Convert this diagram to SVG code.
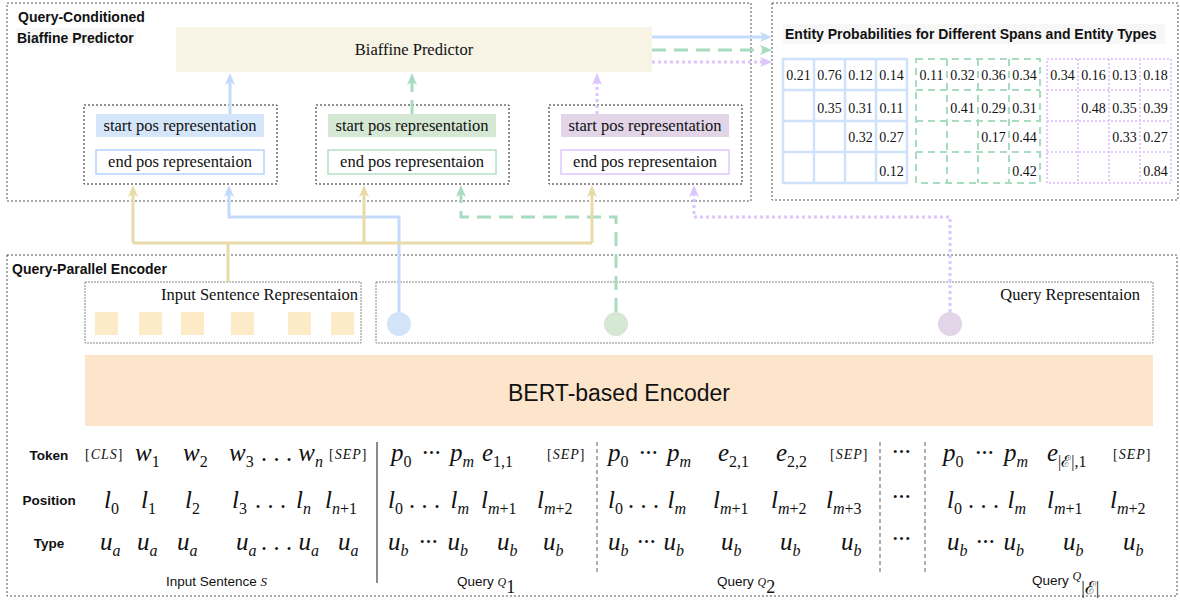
<svg xmlns="http://www.w3.org/2000/svg" width="1180" height="601" viewBox="0 0 1180 601">
  <style>
    .panel{fill:none;stroke:#555;stroke-width:1;stroke-dasharray:2 2}
    .group-box{fill:none;stroke:#222;stroke-width:1;stroke-dasharray:2 2}
    .rep-box{fill:none;stroke:#888;stroke-width:1;stroke-dasharray:2 1}
    .h{font-family:"Liberation Sans",Arial,sans-serif;font-weight:bold;font-size:14px;fill:#111}
    .lbl{font-family:"Liberation Serif","Times New Roman",serif;font-size:16.5px;fill:#111}
    .num{font-family:"Liberation Serif","Times New Roman",serif;font-size:14px;text-anchor:middle;fill:#111}
    .m{font-family:"Liberation Serif","Times New Roman",serif;font-style:italic;font-size:25px;fill:#111}
    .e{text-anchor:end}
    .mid{text-anchor:middle}
    .sb{font-size:16px;font-style:normal}
    .si{font-size:16px}
    .br{font-family:"Liberation Serif","Times New Roman",serif;font-size:14px;letter-spacing:1px;fill:#111}
    .row{font-family:"Liberation Sans",Arial,sans-serif;font-weight:bold;font-size:13.5px;text-anchor:middle;fill:#111}
    .cap{font-family:"Liberation Sans",Arial,sans-serif;font-size:13.5px;fill:#111}
    .capm{font-family:"Liberation Serif","Times New Roman",serif}
    .c-blue{stroke:#c3dafa;stroke-width:3;fill:none}
    .c-green{stroke:#a8dcc0;stroke-width:3;fill:none;stroke-dasharray:14 8}
    .c-purple{stroke:#dcc6fb;stroke-width:3;fill:none;stroke-dasharray:3 3}
    .c-tan{stroke:#e8dba7;stroke-width:3;fill:none}
    .g-blue{fill:none;stroke:#cfe2fb;stroke-width:2.5}
    .g-green{fill:none;stroke:#a8dcc0;stroke-width:2;stroke-dasharray:7 5}
    .g-purple{fill:none;stroke:#e2cbfc;stroke-width:2;stroke-dasharray:2 2}
    .sep-solid{stroke:#666;stroke-width:1.5}
    .sep-dash{stroke:#777;stroke-width:1.2;stroke-dasharray:4 3}
  </style>
  <defs>
    <marker id="ah-blue" markerUnits="userSpaceOnUse" markerWidth="12" markerHeight="10" refX="3" refY="5" orient="auto">
      <path d="M0,0 L12,5 L0,10 L3,5 z" fill="#c3dafa"/>
    </marker>
    <marker id="ah-green" markerUnits="userSpaceOnUse" markerWidth="12" markerHeight="10" refX="3" refY="5" orient="auto">
      <path d="M0,0 L12,5 L0,10 L3,5 z" fill="#a8dcc0"/>
    </marker>
    <marker id="ah-purple" markerUnits="userSpaceOnUse" markerWidth="12" markerHeight="10" refX="3" refY="5" orient="auto">
      <path d="M0,0 L12,5 L0,10 L3,5 z" fill="#dcc6fb"/>
    </marker>
    <marker id="ah-tan" markerUnits="userSpaceOnUse" markerWidth="12" markerHeight="10" refX="3" refY="5" orient="auto">
      <path d="M0,0 L12,5 L0,10 L3,5 z" fill="#e8dba7"/>
    </marker>
  </defs>

  <rect width="1180" height="601" fill="#ffffff"/>

  <!-- Query-Conditioned Biaffine Predictor panel -->
  <g id="predictor-panel">
    <rect class="panel" x="7" y="3" width="744" height="198"/>
    <rect x="16" y="28" width="120" height="18" fill="#f7f7f7"/>
    <text class="h" x="18" y="22">Query-Conditioned</text>
    <text class="h" x="17" y="43">Biaffine Predictor</text>
  </g>

  <g id="biaffine">
    <rect x="176" y="27" width="476" height="45" fill="#f7f3e5"/>
    <text class="lbl" x="414" y="55" text-anchor="middle">Biaffine Predictor</text>
  </g>

  <g id="span-rep-1">
    <rect class="group-box" x="84" y="105" width="193" height="79"/>
    <rect x="96" y="114" width="168" height="23" fill="#d6e6fa"/>
    <text class="lbl" x="180" y="131" text-anchor="middle">start pos representation</text>
    <rect x="96" y="150" width="168" height="24" fill="#fff" stroke="#b3d4ff" stroke-width="1.5"/>
    <text class="lbl" x="180" y="167" text-anchor="middle">end pos representaion</text>
  </g>

  <g id="span-rep-2">
    <rect class="group-box" x="316" y="105" width="193" height="79"/>
    <rect x="328" y="114" width="168" height="23" fill="#d5e8d4"/>
    <text class="lbl" x="412" y="131" text-anchor="middle">start pos representation</text>
    <rect x="328" y="150" width="168" height="24" fill="#fff" stroke="#b5e0c8" stroke-width="1.5"/>
    <text class="lbl" x="412" y="167" text-anchor="middle">end pos representaion</text>
  </g>

  <g id="span-rep-3">
    <rect class="group-box" x="549" y="105" width="193" height="79"/>
    <rect x="561" y="114" width="168" height="23" fill="#e1d5e7"/>
    <text class="lbl" x="645" y="131" text-anchor="middle">start pos representation</text>
    <rect x="561" y="150" width="168" height="24" fill="#fff" stroke="#e0c8ff" stroke-width="1.5"/>
    <text class="lbl" x="645" y="167" text-anchor="middle">end pos representaion</text>
  </g>

  <!-- Entity probability matrices -->
  <g id="probabilities">
    <rect class="panel" x="772" y="3" width="406" height="197"/>
    <rect x="783" y="24" width="382" height="20" fill="#f7f7f7"/>
    <text class="h" x="785" y="39">Entity Probabilities for Different Spans and Entity Types</text>

    <g id="matrix-blue">
      <rect class="g-blue" x="783" y="59" width="124" height="124"/>
      <path class="g-blue" d="M814,59V183M845,59V183M876,59V183M783,90H907M783,121H907M783,152H907"/>
      <text class="num" x="798.5" y="79.5">0.21</text>
      <text class="num" x="829.5" y="79.5">0.76</text>
      <text class="num" x="860.5" y="79.5">0.12</text>
      <text class="num" x="891.5" y="79.5">0.14</text>
      <text class="num" x="829.5" y="112.5">0.35</text>
      <text class="num" x="860.5" y="112.5">0.31</text>
      <text class="num" x="891.5" y="112.5">0.11</text>
      <text class="num" x="860.5" y="142">0.32</text>
      <text class="num" x="891.5" y="142">0.27</text>
      <text class="num" x="891.5" y="175.5">0.12</text>
    </g>

    <g id="matrix-green">
      <rect class="g-green" x="916" y="59" width="124" height="124"/>
      <path class="g-green" d="M947,59V183M978,59V183M1009,59V183M916,90H1040M916,121H1040M916,152H1040"/>
      <text class="num" x="931.5" y="79.5">0.11</text>
      <text class="num" x="962.5" y="79.5">0.32</text>
      <text class="num" x="993.5" y="79.5">0.36</text>
      <text class="num" x="1024.5" y="79.5">0.34</text>
      <text class="num" x="962.5" y="112.5">0.41</text>
      <text class="num" x="993.5" y="112.5">0.29</text>
      <text class="num" x="1024.5" y="112.5">0.31</text>
      <text class="num" x="993.5" y="142">0.17</text>
      <text class="num" x="1024.5" y="142">0.44</text>
      <text class="num" x="1024.5" y="175.5">0.42</text>
    </g>

    <g id="matrix-purple">
      <rect class="g-purple" x="1047" y="59" width="124" height="124"/>
      <path class="g-purple" d="M1078,59V183M1109,59V183M1140,59V183M1047,90H1171M1047,121H1171M1047,152H1171"/>
      <text class="num" x="1062.5" y="79.5">0.34</text>
      <text class="num" x="1093.5" y="79.5">0.16</text>
      <text class="num" x="1124.5" y="79.5">0.13</text>
      <text class="num" x="1155.5" y="79.5">0.18</text>
      <text class="num" x="1093.5" y="112.5">0.48</text>
      <text class="num" x="1124.5" y="112.5">0.35</text>
      <text class="num" x="1155.5" y="112.5">0.39</text>
      <text class="num" x="1124.5" y="142">0.33</text>
      <text class="num" x="1155.5" y="142">0.27</text>
      <text class="num" x="1155.5" y="175.5">0.84</text>
    </g>
  </g>

  <!-- Query-Parallel Encoder panel -->
  <g id="encoder-panel">
    <rect class="panel" x="7" y="255" width="1170" height="341"/>
    <text class="h" x="12" y="274">Query-Parallel Encoder</text>
  </g>

  <g id="sentence-rep">
    <rect class="rep-box" x="85" y="282" width="276" height="61"/>
    <text class="lbl" x="358" y="300" text-anchor="end">Input Sentence Representaion</text>
    <g fill="#fdebc8">
      <rect x="95" y="312" width="23" height="23"/>
      <rect x="139" y="312" width="23" height="23"/>
      <rect x="181" y="312" width="23" height="23"/>
      <rect x="231" y="312" width="23" height="23"/>
      <rect x="288" y="312" width="23" height="23"/>
      <rect x="331" y="312" width="23" height="23"/>
    </g>
  </g>

  <g id="query-rep">
    <rect class="rep-box" x="376" y="282" width="777" height="61"/>
    <text class="lbl" x="1140" y="300" text-anchor="end">Query Representaion</text>
  </g>

  <!-- Connectors -->
  <g id="connectors">
    <path class="c-blue" d="M230,114V82" marker-end="url(#ah-blue)"/>
    <path class="c-green" d="M412,114V82" marker-end="url(#ah-green)"/>
    <path class="c-purple" d="M597,114V82" marker-end="url(#ah-purple)"/>

    <path class="c-blue" d="M652,37H763" marker-end="url(#ah-blue)"/>
    <path class="c-green" d="M652,50H763" marker-end="url(#ah-green)"/>
    <path class="c-purple" d="M652,62H763" marker-end="url(#ah-purple)"/>

    <path class="c-blue" d="M399,312V217H229V194" marker-end="url(#ah-blue)"/>
    <path class="c-green" d="M616,312V217H461V194" marker-end="url(#ah-green)"/>
    <path class="c-purple" d="M950,312V217H694V194" marker-end="url(#ah-purple)"/>

    <path class="c-tan" d="M228,282V243"/>
    <path class="c-tan" d="M133,243H592"/>
    <path class="c-tan" d="M133,243V194" marker-end="url(#ah-tan)"/>
    <path class="c-tan" d="M364,243V194" marker-end="url(#ah-tan)"/>
    <path class="c-tan" d="M592,243V194" marker-end="url(#ah-tan)"/>
  </g>

  <g id="query-points">
    <circle cx="399" cy="324" r="12" fill="#d4e4f8"/>
    <circle cx="616" cy="324" r="12" fill="#d5e8d4"/>
    <circle cx="950" cy="324" r="12" fill="#e1d5e7"/>
  </g>

  <g id="bert">
    <rect x="85" y="355" width="1068" height="71" fill="#fde5cc"/>
    <text x="619" y="401" text-anchor="middle" font-family="Liberation Sans, Arial, sans-serif" font-size="23" fill="#111">BERT-based Encoder</text>
  </g>

  <!-- Input embedding table -->
  <g id="embedding-table">
    <text class="row" x="49" y="460">Token</text>
    <text class="row" x="49" y="505">Position</text>
    <text class="row" x="49" y="548">Type</text>

    <line class="sep-solid" x1="377" y1="442" x2="377" y2="583"/>
    <line class="sep-dash" x1="597" y1="442" x2="597" y2="573"/>
    <line class="sep-dash" x1="880" y1="442" x2="880" y2="573"/>
    <line class="sep-dash" x1="925" y1="442" x2="925" y2="573"/>

    <!-- token row -->
    <text class="br" x="85" y="459">[<tspan font-style="italic">CLS</tspan>]</text>
    <text class="m" x="135" y="461">w<tspan class="sb" dy="6">1</tspan></text>
    <text class="m" x="183" y="461">w<tspan class="sb" dy="6">2</tspan></text>
    <text class="m" x="229" y="461">w<tspan class="sb" dy="6">3</tspan></text>
    <text class="m mid" x="277" y="461">. . .</text>
    <text class="m e" x="323" y="461">w<tspan class="si" dy="6">n</tspan></text>
    <text class="br" x="329" y="459">[<tspan font-style="italic">SEP</tspan>]</text>

    <text class="m" x="391" y="461">p<tspan class="sb" dy="6">0</tspan></text>
    <text class="m mid" x="431" y="461">···</text>
    <text class="m e" x="474" y="461">p<tspan class="si" dy="6">m</tspan></text>
    <text class="m" x="482" y="461">e<tspan class="sb" dy="6">1,1</tspan></text>
    <text class="br" x="547" y="459">[<tspan font-style="italic">SEP</tspan>]</text>

    <text class="m" x="608" y="461">p<tspan class="sb" dy="6">0</tspan></text>
    <text class="m mid" x="648" y="461">···</text>
    <text class="m e" x="691" y="461">p<tspan class="si" dy="6">m</tspan></text>
    <text class="m" x="718" y="461">e<tspan class="sb" dy="6">2,1</tspan></text>
    <text class="m" x="776" y="461">e<tspan class="sb" dy="6">2,2</tspan></text>
    <text class="br" x="830" y="459">[<tspan font-style="italic">SEP</tspan>]</text>

    <text class="m mid" x="901" y="460">···</text>

    <text class="m" x="943" y="461">p<tspan class="sb" dy="6">0</tspan></text>
    <text class="m mid" x="984" y="461">···</text>
    <text class="m e" x="1028" y="461">p<tspan class="si" dy="6">m</tspan></text>
    <text class="m" x="1047" y="461">e<tspan class="sb" dy="6">|ℰ|,1</tspan></text>
    <text class="br" x="1113" y="459">[<tspan font-style="italic">SEP</tspan>]</text>

    <!-- position row -->
    <text class="m" x="104" y="508">l<tspan class="sb" dy="6">0</tspan></text>
    <text class="m" x="141" y="508">l<tspan class="sb" dy="6">1</tspan></text>
    <text class="m" x="185" y="508">l<tspan class="sb" dy="6">2</tspan></text>
    <text class="m" x="232" y="508">l<tspan class="sb" dy="6">3</tspan></text>
    <text class="m mid" x="271" y="508">. . .</text>
    <text class="m e" x="311" y="508">l<tspan class="si" dy="6">n</tspan></text>
    <text class="m" x="325" y="508">l<tspan class="si" dy="6">n</tspan><tspan class="sb">+1</tspan></text>

    <text class="m" x="388" y="508">l<tspan class="sb" dy="6">0</tspan></text>
    <text class="m mid" x="425" y="508">. . .</text>
    <text class="m e" x="469" y="508">l<tspan class="si" dy="6">m</tspan></text>
    <text class="m" x="481" y="508">l<tspan class="si" dy="6">m</tspan><tspan class="sb">+1</tspan></text>
    <text class="m" x="537" y="508">l<tspan class="si" dy="6">m</tspan><tspan class="sb">+2</tspan></text>

    <text class="m" x="608" y="508">l<tspan class="sb" dy="6">0</tspan></text>
    <text class="m mid" x="644" y="508">. . .</text>
    <text class="m e" x="686" y="508">l<tspan class="si" dy="6">m</tspan></text>
    <text class="m" x="713" y="508">l<tspan class="si" dy="6">m</tspan><tspan class="sb">+1</tspan></text>
    <text class="m" x="771" y="508">l<tspan class="si" dy="6">m</tspan><tspan class="sb">+2</tspan></text>
    <text class="m" x="826" y="508">l<tspan class="si" dy="6">m</tspan><tspan class="sb">+3</tspan></text>

    <text class="m mid" x="901" y="505">···</text>

    <text class="m" x="947" y="508">l<tspan class="sb" dy="6">0</tspan></text>
    <text class="m mid" x="984" y="508">. . .</text>
    <text class="m e" x="1026" y="508">l<tspan class="si" dy="6">m</tspan></text>
    <text class="m" x="1047" y="508">l<tspan class="si" dy="6">m</tspan><tspan class="sb">+1</tspan></text>
    <text class="m" x="1110" y="508">l<tspan class="si" dy="6">m</tspan><tspan class="sb">+2</tspan></text>

    <!-- type row -->
    <text class="m" x="100" y="550">u<tspan class="si" dy="6">a</tspan></text>
    <text class="m" x="137" y="550">u<tspan class="si" dy="6">a</tspan></text>
    <text class="m" x="177" y="550">u<tspan class="si" dy="6">a</tspan></text>
    <text class="m" x="236" y="550">u<tspan class="si" dy="6">a</tspan></text>
    <text class="m mid" x="277" y="550">. . .</text>
    <text class="m e" x="319" y="550">u<tspan class="si" dy="6">a</tspan></text>
    <text class="m" x="338" y="550">u<tspan class="si" dy="6">a</tspan></text>

    <text class="m" x="388" y="550">u<tspan class="si" dy="6">b</tspan></text>
    <text class="m mid" x="428" y="550">···</text>
    <text class="m e" x="468" y="550">u<tspan class="si" dy="6">b</tspan></text>
    <text class="m" x="497" y="550">u<tspan class="si" dy="6">b</tspan></text>
    <text class="m" x="543" y="550">u<tspan class="si" dy="6">b</tspan></text>

    <text class="m" x="608" y="550">u<tspan class="si" dy="6">b</tspan></text>
    <text class="m mid" x="646" y="550">···</text>
    <text class="m e" x="684" y="550">u<tspan class="si" dy="6">b</tspan></text>
    <text class="m" x="721" y="550">u<tspan class="si" dy="6">b</tspan></text>
    <text class="m" x="780" y="550">u<tspan class="si" dy="6">b</tspan></text>
    <text class="m" x="841" y="550">u<tspan class="si" dy="6">b</tspan></text>

    <text class="m mid" x="901" y="547">···</text>

    <text class="m" x="947" y="550">u<tspan class="si" dy="6">b</tspan></text>
    <text class="m mid" x="985" y="550">···</text>
    <text class="m e" x="1024" y="550">u<tspan class="si" dy="6">b</tspan></text>
    <text class="m" x="1063" y="550">u<tspan class="si" dy="6">b</tspan></text>
    <text class="m" x="1123" y="550">u<tspan class="si" dy="6">b</tspan></text>

    <!-- segment captions -->
    <text class="cap" x="166" y="586">Input Sentence <tspan class="capm" font-style="italic" font-size="13">S</tspan></text>
    <text class="cap" x="457" y="586">Query <tspan class="capm" font-style="italic" font-size="12">Q</tspan><tspan class="capm" font-size="18" dy="7">1</tspan></text>
    <text class="cap" x="717" y="586">Query <tspan class="capm" font-style="italic" font-size="12">Q</tspan><tspan class="capm" font-size="18" dy="7">2</tspan></text>
    <text class="cap" x="1032" y="585">Query <tspan class="capm" font-style="italic" font-size="12" dy="-5">Q</tspan><tspan class="capm" font-size="18" dy="14">|ℰ|</tspan></text>
  </g>
</svg>
